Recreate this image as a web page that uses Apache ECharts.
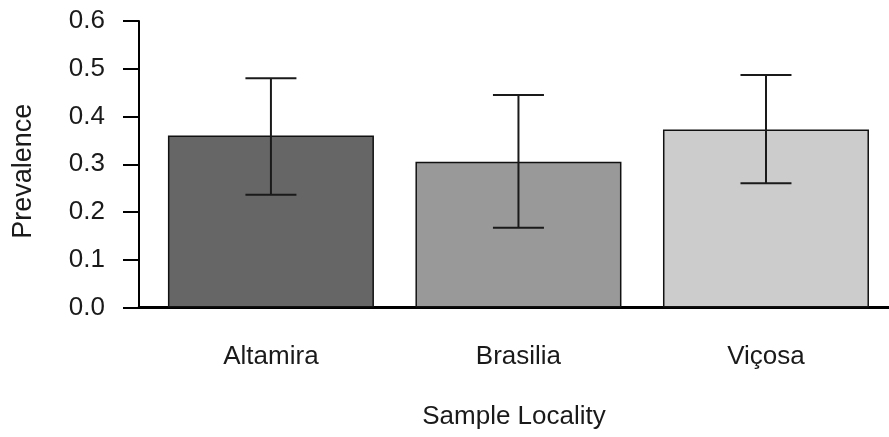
<!DOCTYPE html>
<html>
<head>
<meta charset="utf-8">
<script src="https://cdn.jsdelivr.net/npm/echarts@6/dist/echarts.min.js"></script>
<style>html,body{margin:0;padding:0;background:#fff}#c{width:889px;height:437px}</style>
</head>
<body>
<div id="c"></div>
<script>
var categories = ['Altamira', 'Brasilia', 'Viçosa'];
var prevalence = [0.36, 0.305, 0.373];
var errLow = [0.236, 0.167, 0.26];
var errHigh = [0.48, 0.445, 0.487];
var barColors = ['#666666', '#999999', '#cccccc'];
var yTicks = [0, 0.1, 0.2, 0.3, 0.4, 0.5, 0.6];

var FONT = '"Liberation Sans", Arial, sans-serif';
var chart = echarts.init(document.getElementById('c'));

var barData = categories.map(function (c, i) {
  return { value: [i, prevalence[i]], itemStyle: { color: barColors[i] } };
});
var errData = categories.map(function (c, i) { return [i, errLow[i], errHigh[i]]; });

chart.setOption({
  backgroundColor: '#ffffff',
  animation: false,
  grid: { left: 139, right: 0, top: 21, bottom: 129.5, containLabel: false },
  xAxis: {
    type: 'value',
    min: -0.533,
    max: 2.497,
    name: 'Sample Locality',
    nameLocation: 'middle',
    nameGap: 96,
    nameTextStyle: { fontFamily: FONT, fontSize: 26, color: '#1a1a1a', verticalAlign: 'top' },
    axisLine: { show: true, onZero: false, lineStyle: { color: '#000', width: 3 } },
    axisTick: { show: false },
    splitLine: { show: false },
    axisLabel: {
      customValues: [0, 1, 2],
      formatter: function (v) { return categories[Math.round(v)] || ''; },
      fontFamily: FONT, fontSize: 26, color: '#1a1a1a', margin: 36
    }
  },
  yAxis: {
    type: 'value',
    min: 0,
    max: 0.6,
    interval: 0.1,
    name: 'Prevalence',
    nameLocation: 'middle',
    nameGap: 102,
    nameTextStyle: { fontFamily: FONT, fontSize: 27, color: '#1a1a1a', padding: [0, 14, 0, 0] },
    axisLine: { show: true, onZero: false, lineStyle: { color: '#000', width: 2 } },
    axisTick: { show: true, length: 16, lineStyle: { color: '#000', width: 2 } },
    splitLine: { show: false },
    axisLabel: {
      customValues: yTicks,
      formatter: function (v) { return v.toFixed(1); },
      fontFamily: FONT, fontSize: 26, color: '#1a1a1a', margin: 34
    }
  },
  series: [
    {
      type: 'bar',
      data: barData,
      barWidth: 206,
      itemStyle: { borderColor: '#111', borderWidth: 1.5 }
    },
    {
      type: 'custom',
      data: errData,
      z: 10,
      renderItem: function (params, api) {
        var x = api.value(0);
        var lo = api.coord([x, api.value(1)]);
        var hi = api.coord([x, api.value(2)]);
        var hw = 25.5;
        var st = { stroke: '#1a1a1a', lineWidth: 2 };
        return {
          type: 'group',
          children: [
            { type: 'line', shape: { x1: lo[0], y1: lo[1], x2: hi[0], y2: hi[1] }, style: st },
            { type: 'line', shape: { x1: hi[0] - hw, y1: hi[1], x2: hi[0] + hw, y2: hi[1] }, style: st },
            { type: 'line', shape: { x1: lo[0] - hw, y1: lo[1], x2: lo[0] + hw, y2: lo[1] }, style: st }
          ]
        };
      }
    }
  ]
});
</script>
</body>
</html>
